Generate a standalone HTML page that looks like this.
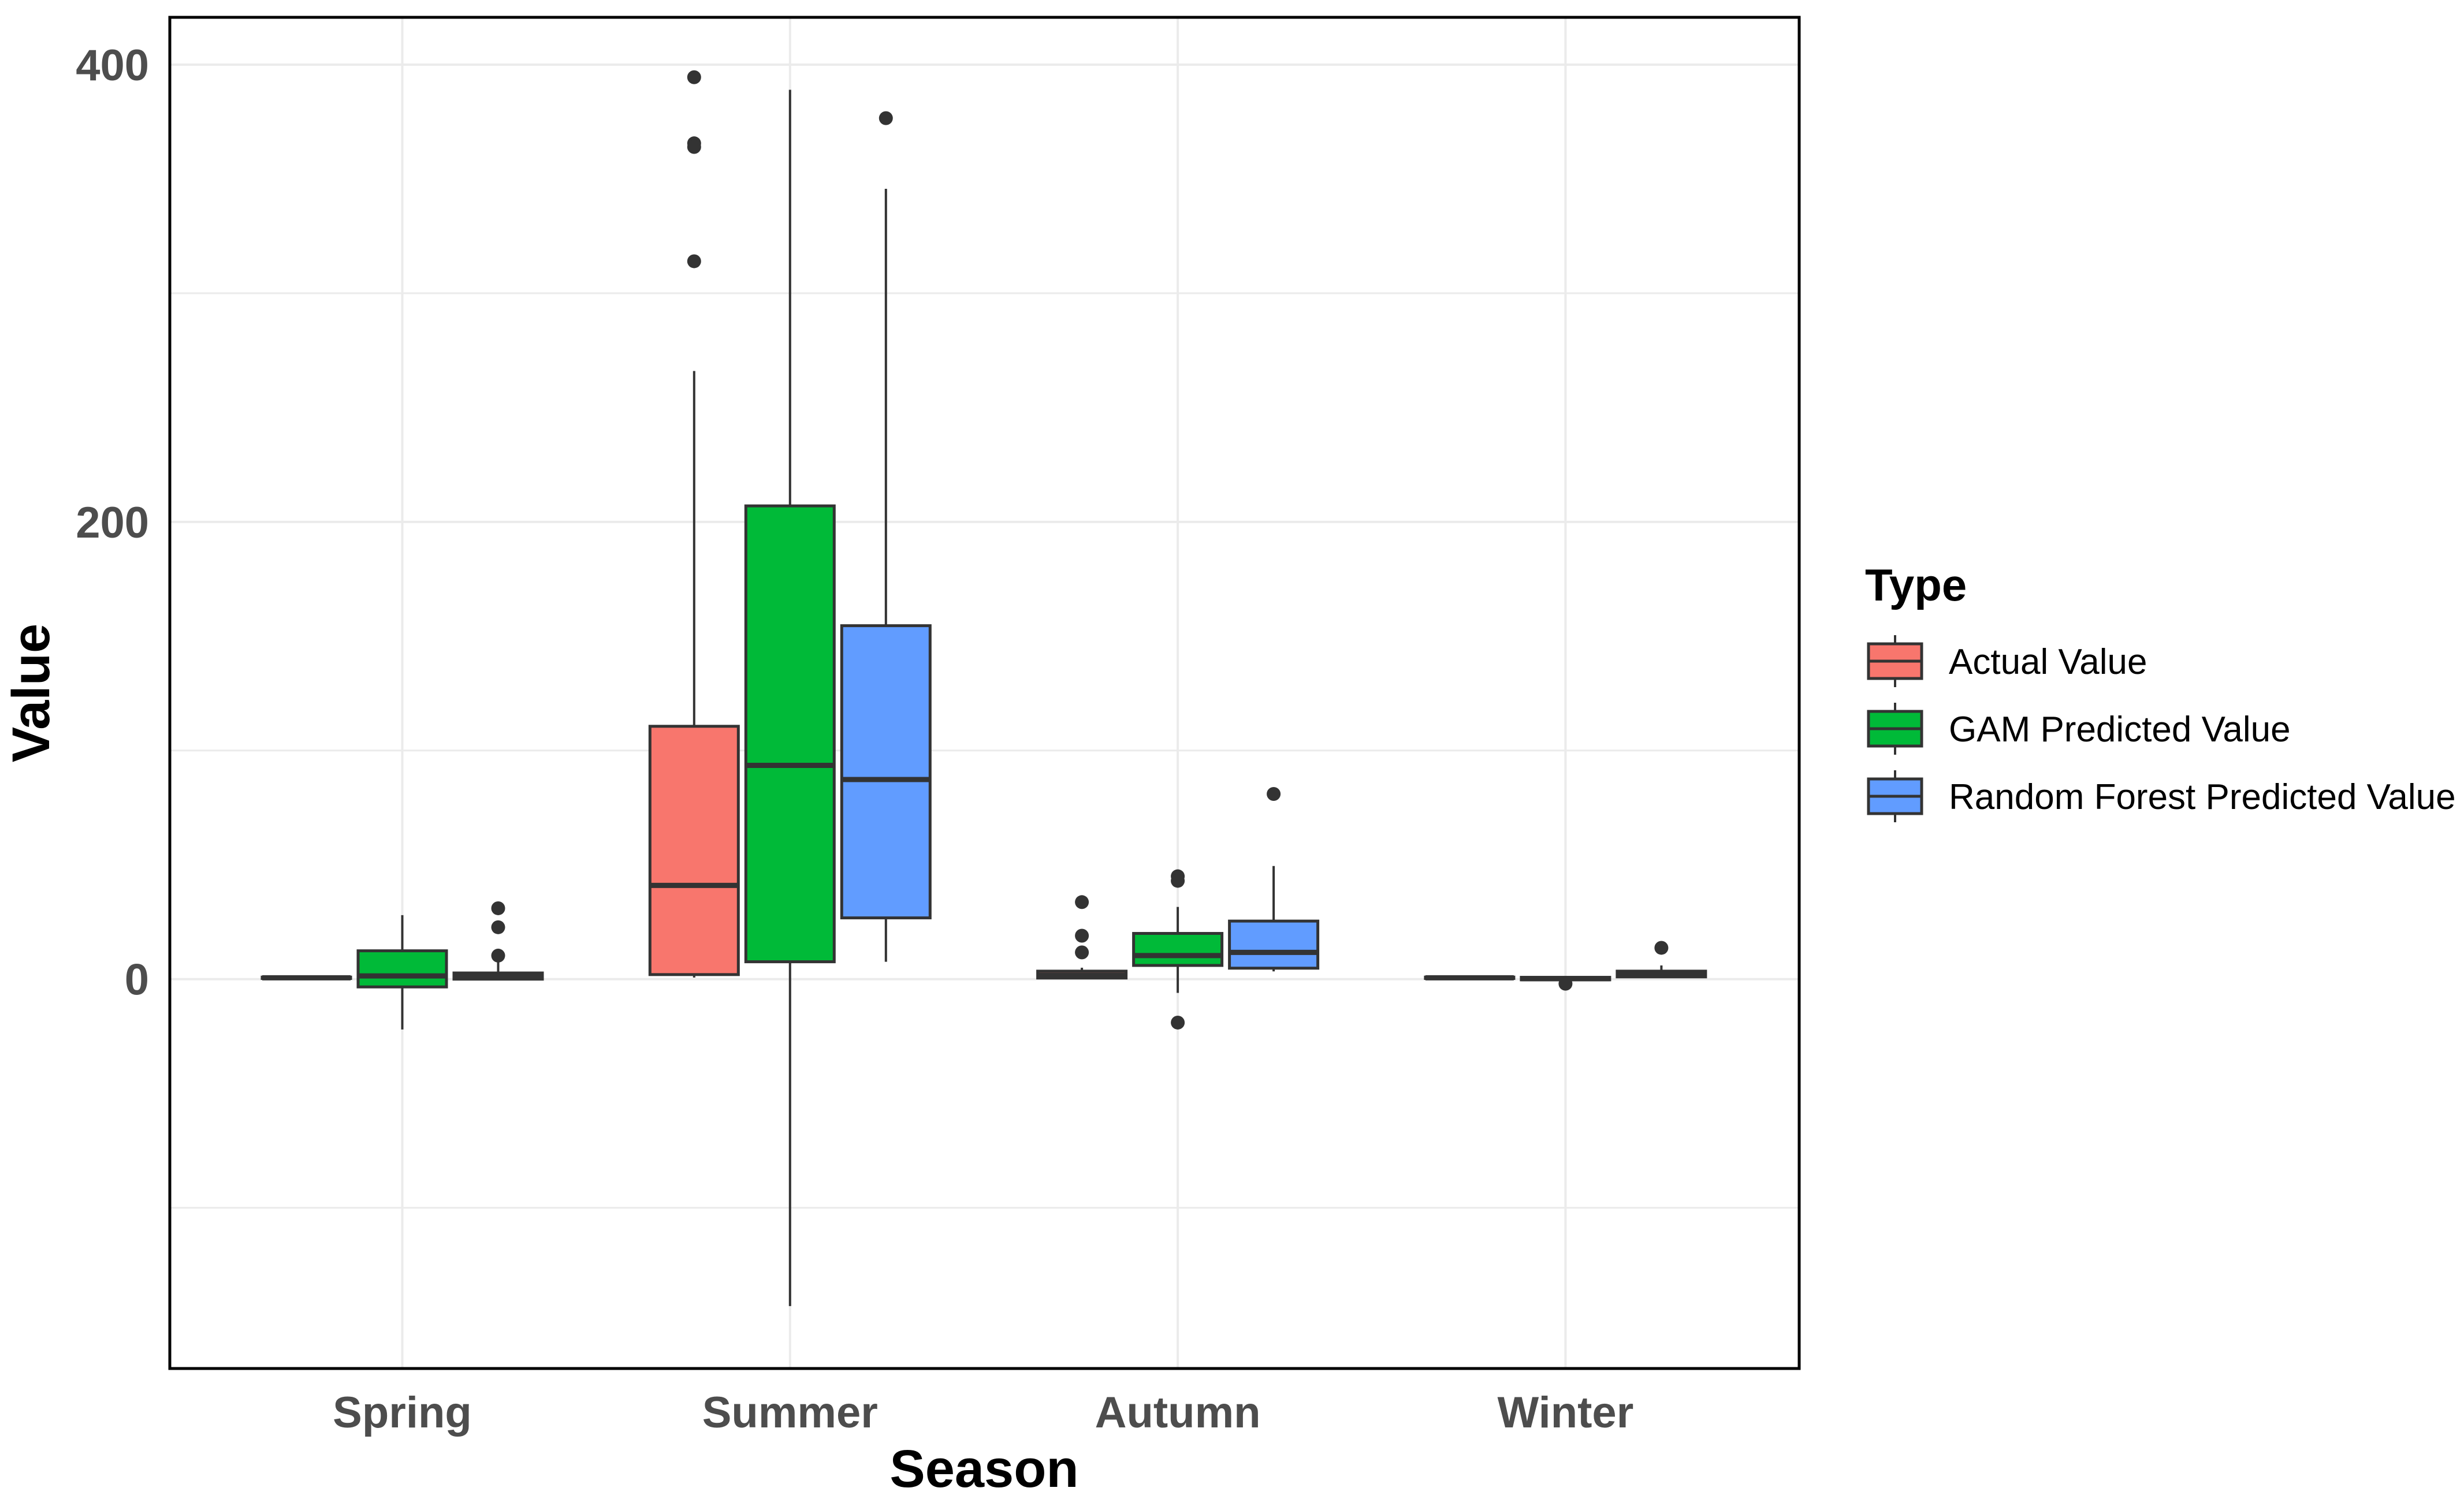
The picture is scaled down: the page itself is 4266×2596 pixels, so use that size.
<!DOCTYPE html>
<html><head><meta charset="utf-8"><style>
html,body{margin:0;padding:0;background:#fff;}
svg{display:block;font-family:"Liberation Sans",sans-serif;}
</style></head><body>
<svg id="chart" width="4266" height="2596" viewBox="0 0 4266 2596" xmlns="http://www.w3.org/2000/svg">
<g id="grid"></g>
<g id="boxes"></g>
<rect x="294" y="30" width="2821" height="2340" fill="none" stroke="#000" stroke-width="5"/>
<g id="yticks"></g>
<g id="xticks"></g>
<text x="1704" y="2575" font-size="92" font-weight="bold" text-anchor="middle">Season</text>
<text transform="translate(85,1200) rotate(-90)" font-size="92" font-weight="bold" text-anchor="middle">Value</text>
<g id="legend">
<text x="3229" y="1040" font-size="78" font-weight="bold">Type</text>
</g>
</svg>
<script>
const categories = ["Spring","Summer","Autumn","Winter"];
const seriesNames = ["Actual Value","GAM Predicted Value","Random Forest Predicted Value"];
const colors = ["#F8766D","#00BA38","#619CFF"];
// [whiskerLow, q1, median, q3, whiskerHigh]
const actualStats = [[0.3,0.3,0.6,0.9,0.9],[0.7,2,41,110.6,266],[0.5,0.5,1.7,3.5,5],[0.3,0.3,0.6,0.9,0.9]];
const gamStats = [[-22,-3.4,1.4,12.4,28],[-143,7.6,93.5,207,389],[-6,6,10.3,20,31.6],[-0.3,-0.3,0.2,0.8,0.8]];
const rfStats = [[0,0,1.4,2.7,7.6],[7.6,26.8,87.3,154.6,345.7],[3.4,4.8,11.7,25.4,49.5],[1,1,2,3.5,6]];
const actualOutliers = [[],[394.5,365.6,364,314],[33.7,19,11.7],[]];
const gamOutliers = [[],[],[45,43,-19],[-2]];
const rfOutliers = [[31,22.7,10.3],[376.6],[81],[13.7]];
const yTicks = [0,200,400];
const yGrid = [-100,0,100,200,300,400];

const NS="http://www.w3.org/2000/svg";
const panel={x0:294,x1:3115,y0:30,y1:2370};
const yMin=-170.3, yMax=420.7;
function yScale(v){return panel.y1-(v-yMin)/(yMax-yMin)*(panel.y1-panel.y0);}
const catSpacing=671.3, catStart=696.5;
function xScale(i){return catStart+i*catSpacing;}
const dodge=166, bw=153;
function mk(tag,attrs,parent){const e=document.createElementNS(NS,tag);for(const k in attrs)e.setAttribute(k,attrs[k]);parent.appendChild(e);return e;}
const grid=document.getElementById('grid');
yGrid.forEach(v=>{const l=mk('line',{x1:panel.x0,x2:panel.x1,y1:yScale(v),y2:yScale(v),stroke:'#ebebeb','stroke-width':v%200===0?4:3},grid);

});
categories.forEach((c,i)=>{const l=mk('line',{x1:xScale(i),x2:xScale(i),y1:panel.y0,y2:panel.y1,stroke:'#ebebeb','stroke-width':4},grid);

});
const yt=document.getElementById('yticks');
yTicks.forEach(v=>{const t=mk('text',{x:258,y:yScale(v)+27,'font-size':76,'font-weight':'bold','text-anchor':'end',fill:'#4d4d4d'},yt);t.textContent=v;

});
const xt=document.getElementById('xticks');
categories.forEach((c,i)=>{const t=mk('text',{x:xScale(i),y:2472,'font-size':76,'font-weight':'bold','text-anchor':'middle',fill:'#4d4d4d'},xt);t.textContent=c;

});
const allStats=[actualStats,gamStats,rfStats], allOut=[actualOutliers,gamOutliers,rfOutliers];
const bg=document.getElementById('boxes');
categories.forEach((c,i)=>{
  for(let s=0;s<3;s++){
    const st=allStats[s][i]; const cx=xScale(i)+(s-1)*dodge;
    const g=mk('g',{},bg);
    
    
    mk('line',{x1:cx,x2:cx,y1:yScale(st[0]),y2:yScale(st[1]),stroke:'#333','stroke-width':4},g);
    mk('line',{x1:cx,x2:cx,y1:yScale(st[3]),y2:yScale(st[4]),stroke:'#333','stroke-width':4},g);
    const top=yScale(st[3]), bot=yScale(st[1]);
    mk('rect',{x:cx-bw/2,y:top,width:bw,height:Math.max(bot-top,1),fill:colors[s],stroke:'#333','stroke-width':5},g);
    mk('line',{x1:cx-bw/2,x2:cx+bw/2,y1:yScale(st[2]),y2:yScale(st[2]),stroke:'#333','stroke-width':9},g);
    allOut[s][i].forEach(v=>{const p=mk('circle',{cx:cx,cy:yScale(v),r:12,fill:'#333'},g);
      
      });
  }
});
const lg=document.getElementById('legend');
seriesNames.forEach((n,s)=>{
  const cy=1145+s*117;
  const g=mk('g',{},lg);
  
  
  mk('line',{x1:3281,x2:3281,y1:cy-45,y2:cy+45,stroke:'#333','stroke-width':4},g);
  mk('rect',{x:3235,y:cy-30,width:92,height:60,fill:colors[s],stroke:'#333','stroke-width':5},g);
  mk('line',{x1:3235,x2:3327,y1:cy,y2:cy,stroke:'#333','stroke-width':5},g);
  const t=mk('text',{x:3374,y:cy+22,'font-size':62,fill:'#000'},g);t.textContent=n;
});
</script>
</body></html>
